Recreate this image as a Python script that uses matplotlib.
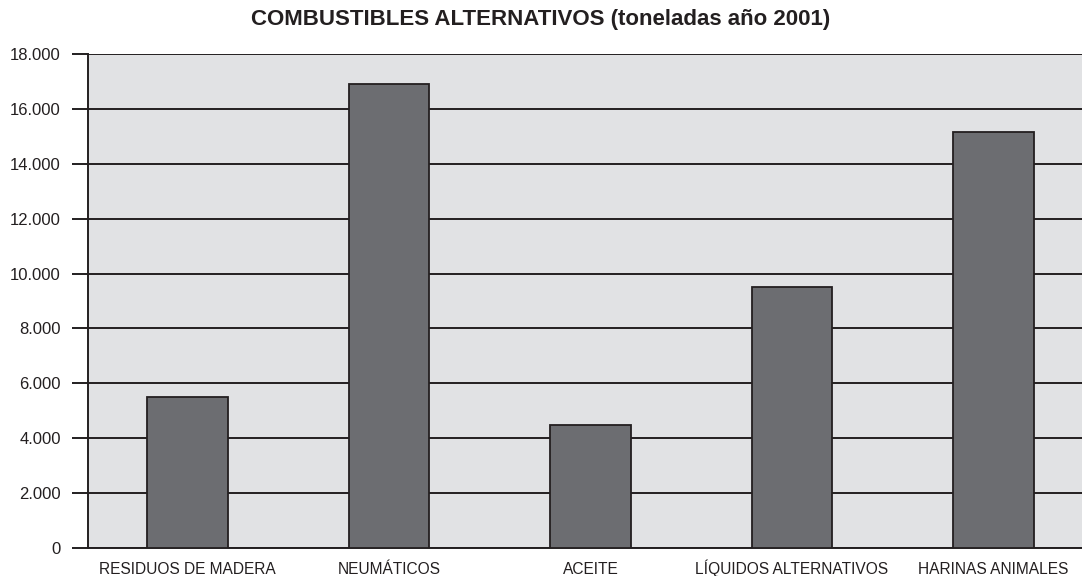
import matplotlib.pyplot as plt
from matplotlib.ticker import FuncFormatter

plt.rcParams['font.family'] = ['Liberation Sans', 'DejaVu Sans']

categorias = ["RESIDUOS DE MADERA", "NEUMÁTICOS", "ACEITE",
              "LÍQUIDOS ALTERNATIVOS", "HARINAS ANIMALES"]
toneladas = [5500, 16900, 4500, 9500, 15150]
yticks = list(range(0, 18001, 2000))

fig = plt.figure(figsize=(10.82, 5.76), dpi=100)
ax = fig.add_axes([88 / 1082, 1 - 548 / 576, 1 - 88 / 1082, (548 - 54) / 576])
ax.set_facecolor("#e1e2e4")

x = list(range(len(categorias)))
ax.bar(x, toneladas, width=0.4, color="#6c6d71", edgecolor="#231f20",
       linewidth=1.3, zorder=3)

ax.set_ylim(0, 18000)
ax.set_xlim(-0.494, 4.44)
ax.set_yticks(yticks)
ax.yaxis.set_major_formatter(FuncFormatter(lambda v, p: f"{int(v):,}".replace(",", ".")))
ax.set_xticks(x)
ax.set_xticklabels(categorias, fontsize=11.2)
for lbl in ax.get_xticklabels():
    lbl.set_va("baseline")
ax.tick_params(axis="x", length=0, pad=18.5, colors="#231f20")
ax.tick_params(axis="y", length=11.5, width=1.4, pad=8, labelsize=12, colors="#231f20")
ax.yaxis.grid(True, color="#231f20", linewidth=1.4, zorder=1)
ax.set_axisbelow(True)

for s in ["top", "right"]:
    ax.spines[s].set_visible(False)
ax.spines["left"].set_linewidth(1.4)
ax.spines["left"].set_color("#231f20")
ax.spines["bottom"].set_linewidth(1.4)
ax.spines["bottom"].set_color("#231f20")

fig.text(0.5, 1 - 20 / 576, "COMBUSTIBLES ALTERNATIVOS (toneladas año 2001)",
         ha="center", va="center", fontsize=16, fontweight="bold", color="#231f20")

fig.savefig("out.png", dpi=100)
